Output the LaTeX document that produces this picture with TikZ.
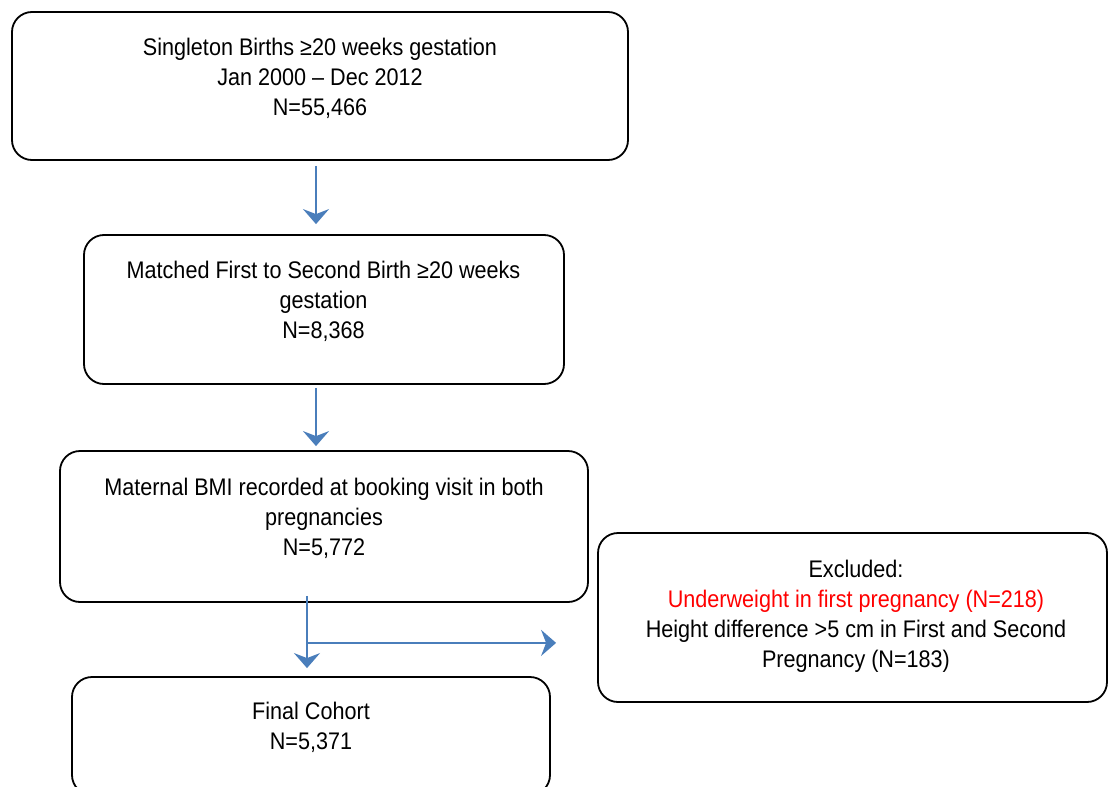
\documentclass[tikz,border=0pt]{standalone}
\usepackage{fontspec}
\setmainfont{Liberation Sans}[FakeStretch=0.9]
\usetikzlibrary{arrows.meta}
\definecolor{arrowblue}{HTML}{4A7EBB}
\definecolor{exred}{HTML}{FF0000}
\begin{document}
\begin{tikzpicture}[x=1pt,y=-1pt,
 box/.style={draw=black, line width=1.8pt, rounded corners=20pt, inner sep=0pt},
 txt/.style={align=center, inner sep=0pt, font=\fontsize{24}{30}\selectfont},
 flow/.style={draw=arrowblue, line width=2.2pt, -{Stealth[length=15pt,width=26pt,inset=5pt]}}]
\useasboundingbox (0,0) rectangle (1109,787);
\clip (0,0) rectangle (1109,787);
\node[box, minimum width=616pt, minimum height=148pt] (b1) at (320,86) {};
\node[box, minimum width=480pt, minimum height=149pt] (b2) at (324,309.5) {};
\node[box, minimum width=528pt, minimum height=151pt] (b3) at (324,526.5) {};
\node[box, minimum width=478pt, minimum height=118pt] (b4) at (311,736) {};
\node[box, minimum width=509pt, minimum height=169pt] (ex) at (852.5,617.5) {};
\node[txt] (t1) at (320,78) {Singleton Births ≥20 weeks gestation\\Jan 2000 \textendash{} Dec 2012\\N=55,466};
\node[txt] (t2) at (323.5,301) {Matched First to Second Birth ≥20 weeks\\gestation\\N=8,368};
\node[txt] (t3) at (324,518) {Maternal BMI recorded at booking visit in both\\pregnancies\\N=5,772};
\node[txt] (t4) at (311,727) {Final Cohort\\N=5,371};
\node[txt] (t5) at (856,616) {Excluded:\\\textcolor{exred}{Underweight in first pregnancy (N=218)}\\Height difference >5 cm in First and Second\\Pregnancy (N=183)};
\draw[flow] ([xshift=-4pt,yshift=-5pt]b1.south) -- ([xshift=-8pt,yshift=10pt]b2.north);
\draw[flow] ([xshift=-8pt,yshift=-3pt]b2.south) -- ([xshift=-8pt,yshift=4pt]b3.north);
\coordinate (split) at ([xshift=-17pt,yshift=-40pt]b3.south);
\draw[flow] ([xshift=-17pt,yshift=7pt]b3.south) -- ([xshift=-4pt,yshift=8pt]b4.north);
\draw[flow, shorten >=41pt] (split) -- (split -| ex.west);
\end{tikzpicture}
\end{document}
